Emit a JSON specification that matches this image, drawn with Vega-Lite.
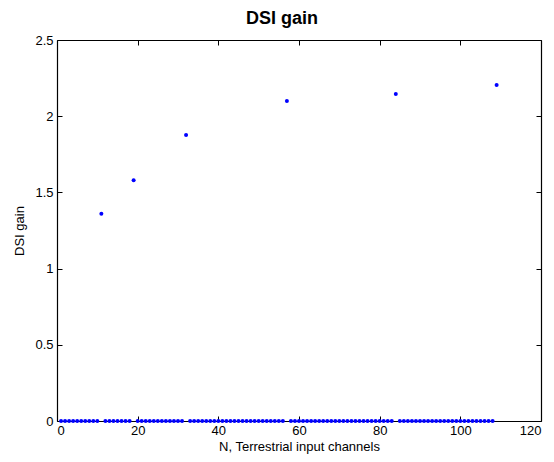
{
  "$schema": "https://vega.github.io/schema/vega-lite/v6.json",
  "autosize": "none",
  "width": 484,
  "height": 381,
  "padding": {"left": 57, "top": 40, "right": 13, "bottom": 41},
  "background": "white",
  "config": {
    "font": "Liberation Sans",
    "view": {"stroke": null},
    "axis": {"grid": false, "domainColor": "black", "tickColor": "black", "labelColor": "black", "titleColor": "black", "labelFontSize": 13, "titleFontSize": 13, "titleFontWeight": "normal", "tickSize": -5, "labelPadding": 9, "domainWidth": 1.2, "labelFont": "Liberation Sans", "titleFont": "Liberation Sans"}
  },
  "title": {"text": "DSI gain", "fontSize": 18, "fontWeight": "bold", "font": "Liberation Sans", "color": "black", "offset": 6, "dx": -17},
  "data": {"values": [
    {"n": 1, "g": 0}, {"n": 2, "g": 0}, {"n": 3, "g": 0}, {"n": 4, "g": 0}, {"n": 5, "g": 0}, {"n": 6, "g": 0}, {"n": 7, "g": 0}, {"n": 8, "g": 0}, {"n": 9, "g": 0}, {"n": 10, "g": 0},
    {"n": 11, "g": 1.36},
    {"n": 12, "g": 0}, {"n": 13, "g": 0}, {"n": 14, "g": 0}, {"n": 15, "g": 0}, {"n": 16, "g": 0}, {"n": 17, "g": 0}, {"n": 18, "g": 0},
    {"n": 19, "g": 1.58},
    {"n": 20, "g": 0}, {"n": 21, "g": 0}, {"n": 22, "g": 0}, {"n": 23, "g": 0}, {"n": 24, "g": 0}, {"n": 25, "g": 0}, {"n": 26, "g": 0}, {"n": 27, "g": 0}, {"n": 28, "g": 0}, {"n": 29, "g": 0}, {"n": 30, "g": 0}, {"n": 31, "g": 0},
    {"n": 32, "g": 1.877},
    {"n": 33, "g": 0}, {"n": 34, "g": 0}, {"n": 35, "g": 0}, {"n": 36, "g": 0}, {"n": 37, "g": 0}, {"n": 38, "g": 0}, {"n": 39, "g": 0}, {"n": 40, "g": 0}, {"n": 41, "g": 0}, {"n": 42, "g": 0}, {"n": 43, "g": 0}, {"n": 44, "g": 0}, {"n": 45, "g": 0}, {"n": 46, "g": 0}, {"n": 47, "g": 0}, {"n": 48, "g": 0}, {"n": 49, "g": 0}, {"n": 50, "g": 0}, {"n": 51, "g": 0}, {"n": 52, "g": 0}, {"n": 53, "g": 0}, {"n": 54, "g": 0}, {"n": 55, "g": 0}, {"n": 56, "g": 0},
    {"n": 57, "g": 2.1},
    {"n": 58, "g": 0}, {"n": 59, "g": 0}, {"n": 60, "g": 0}, {"n": 61, "g": 0}, {"n": 62, "g": 0}, {"n": 63, "g": 0}, {"n": 64, "g": 0}, {"n": 65, "g": 0}, {"n": 66, "g": 0}, {"n": 67, "g": 0}, {"n": 68, "g": 0}, {"n": 69, "g": 0}, {"n": 70, "g": 0}, {"n": 71, "g": 0}, {"n": 72, "g": 0}, {"n": 73, "g": 0}, {"n": 74, "g": 0}, {"n": 75, "g": 0}, {"n": 76, "g": 0}, {"n": 77, "g": 0}, {"n": 78, "g": 0}, {"n": 79, "g": 0}, {"n": 80, "g": 0}, {"n": 81, "g": 0}, {"n": 82, "g": 0}, {"n": 83, "g": 0},
    {"n": 84, "g": 2.145},
    {"n": 85, "g": 0}, {"n": 86, "g": 0}, {"n": 87, "g": 0}, {"n": 88, "g": 0}, {"n": 89, "g": 0}, {"n": 90, "g": 0}, {"n": 91, "g": 0}, {"n": 92, "g": 0}, {"n": 93, "g": 0}, {"n": 94, "g": 0}, {"n": 95, "g": 0}, {"n": 96, "g": 0}, {"n": 97, "g": 0}, {"n": 98, "g": 0}, {"n": 99, "g": 0}, {"n": 100, "g": 0}, {"n": 101, "g": 0}, {"n": 102, "g": 0}, {"n": 103, "g": 0}, {"n": 104, "g": 0}, {"n": 105, "g": 0}, {"n": 106, "g": 0}, {"n": 107, "g": 0}, {"n": 108, "g": 0},
    {"n": 109, "g": 2.205}
  ]},
  "layer": [
    {
      "mark": {"type": "point", "filled": true, "color": "#0000ff", "size": 16, "opacity": 1, "clip": false},
      "encoding": {
        "x": {"field": "n", "type": "quantitative", "scale": {"domain": [0, 120], "nice": false, "zero": false}, "axis": {"title": "N, Terrestrial input channels", "values": [0, 20, 40, 60, 80, 100, 120], "titlePadding": 3, "labelPadding": 8}},
        "y": {"field": "g", "type": "quantitative", "scale": {"domain": [0, 2.5], "nice": false}, "axis": {"title": "DSI gain", "values": [0, 0.5, 1, 1.5, 2, 2.5], "format": "~g", "titlePadding": 8, "labelPadding": 9}}
      }
    },
    {
      "mark": {"type": "point", "opacity": 0},
      "encoding": {
        "x": {"field": "n", "type": "quantitative", "scale": {"domain": [0, 120], "nice": false, "zero": false}, "axis": {"orient": "top", "title": null, "labels": false, "values": [0, 20, 40, 60, 80, 100, 120]}},
        "y": {"field": "g", "type": "quantitative", "scale": {"domain": [0, 2.5], "nice": false}, "axis": {"orient": "right", "title": null, "labels": false, "values": [0, 0.5, 1, 1.5, 2, 2.5]}}
      }
    }
  ],
  "resolve": {"axis": {"x": "independent", "y": "independent"}}
}
